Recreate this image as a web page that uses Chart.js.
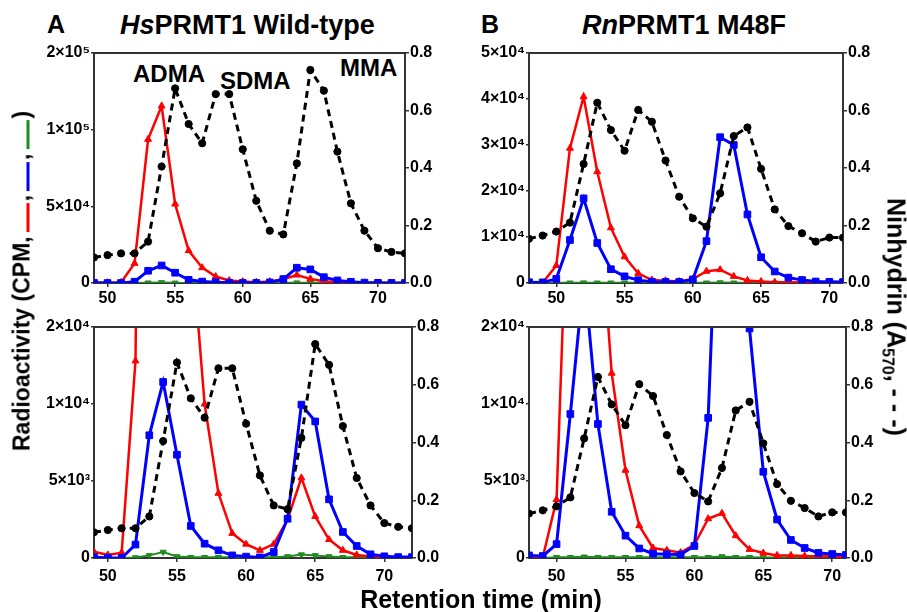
<!DOCTYPE html>
<html>
<head>
<meta charset="utf-8">
<script src="https://cdn.jsdelivr.net/npm/chart.js@4.4.1/dist/chart.umd.min.js"></script>
<style>
  html, body { margin: 0; padding: 0; background: #fff; }
  body { width: 907px; height: 612px; position: relative; overflow: hidden;
         font-family: 'Liberation Sans', Arial, sans-serif; color: #000; }
  canvas { position: absolute; }
  .txt { position: absolute; font-weight: bold; line-height: 1; white-space: nowrap; }
  .letter { font-size: 25px; }
  .title { font-size: 27px; }
  .peak { font-size: 24px; }
  .axis-title { font-size: 25px; }
  .ylab { font-size: 23px; }
  .rot-l { transform: translate(-50%, -50%) rotate(-90deg); }
  .rot-r { transform: translate(-50%, -50%) rotate(90deg); }
  .key { display: inline-block; width: 29px; height: 3px; vertical-align: baseline; margin: 0 2px 0 4px; }
  sub { font-size: 16px; vertical-align: -5px; line-height: 0; }
</style>
</head>
<body>
<div class="txt letter" style="left:47px; top:12px;">A</div>
<div class="txt title" style="left:120px; top:12px;"><i>Hs</i>PRMT1 Wild-type</div>
<div class="txt letter" style="left:481px; top:12px;">B</div>
<div class="txt title" style="left:582px; top:12px;"><i>Rn</i>PRMT1 M48F</div>

<div class="txt peak" style="left:133px; top:62px;">ADMA</div>
<div class="txt peak" style="left:220px; top:69px;">SDMA</div>
<div class="txt peak" style="left:340px; top:56px;">MMA</div>

<canvas id="a-top" width="450" height="270" style="left:0px; top:40px;"></canvas>
<canvas id="b-top" width="420" height="270" style="left:455px; top:40px;"></canvas>
<canvas id="a-bot" width="455" height="277" style="left:0px; top:315px;"></canvas>
<canvas id="b-bot" width="425" height="277" style="left:455px; top:315px;"></canvas>

<div class="txt ylab rot-l" style="left:22px; top:281px;">Radioactivity (CPM,<span class="key" style="background:#ff0000"></span>,<span class="key" style="background:#0000ff"></span>,<span class="key" style="background:#1e8c1e"></span>)</div>
<div class="txt axis-title rot-r" style="left:896px; top:317px;">Ninhydrin (A<sub>570</sub>, - - -)</div>
<div class="txt axis-title" style="left:481px; top:587px; transform: translateX(-50%);">Retention time (min)</div>

<script>
// ---------- Data ----------
// Panel A: HsPRMT1 wild-type, fractions 49..72 min
const A_TIME  = [49, 50, 51, 52, 53, 54, 55, 56, 57, 58, 59, 60, 61, 62, 63, 64, 65, 66, 67, 68, 69, 70, 71, 72];
const A_RED   = [400, 200, 350, 12800, 93700, 115400, 51500, 21100, 10000, 4200, 1600, 900, 500, 900, 2500, 5200, 2700, 1200, 500, 200, 100, 50, 0, 0];
const A_BLUE  = [60, 0, 0, 870, 7970, 11430, 6710, 2080, 930, 500, 170, 90, 40, 390, 2550, 9960, 8870, 3810, 1690, 780, 240, 110, 60, 60];
const A_GREEN = [0, 0, 0, 30, 170, 390, 100, 50, 50, 50, 50, 50, 50, 50, 100, 220, 170, 100, 50, 50, 50, 50, 50, 50];
const A_NIN   = [0.089, 0.097, 0.103, 0.103, 0.144, 0.405, 0.677, 0.553, 0.486, 0.657, 0.657, 0.465, 0.286, 0.182, 0.169, 0.416, 0.741, 0.669, 0.457, 0.277, 0.182, 0.121, 0.108, 0.103];

// Panel B: RnPRMT1 M48F, fractions 48..71 min
const B_TIME  = [48, 49, 50, 51, 52, 53, 54, 55, 56, 57, 58, 59, 60, 61, 62, 63, 64, 65, 66, 67, 68, 69, 70, 71];
const B_RED   = [40, 40, 3800, 29300, 40500, 24200, 12000, 5700, 2100, 650, 500, 350, 870, 2550, 2900, 1450, 560, 320, 170, 170, 130, 110, 100, 80];
const B_BLUE  = [170, 130, 900, 9350, 18400, 8700, 3000, 1450, 620, 280, 240, 220, 780, 9100, 31700, 30000, 14900, 5600, 2500, 1170, 650, 330, 260, 200];
const B_GREEN = [0, 0, 50, 50, 80, 50, 50, 50, 50, 50, 50, 50, 50, 50, 100, 50, 50, 30, 30, 30, 30, 30, 30, 30];
const B_NIN   = [0.154, 0.165, 0.179, 0.210, 0.414, 0.627, 0.532, 0.460, 0.602, 0.561, 0.426, 0.300, 0.225, 0.196, 0.312, 0.511, 0.541, 0.397, 0.256, 0.198, 0.173, 0.144, 0.158, 0.158];

// ---------- Tick values / labels ----------
const X_TICKS = [50, 55, 60, 65, 70];
const NIN_TICKS  = [0, 0.2, 0.4, 0.6, 0.8];
const NIN_LABELS = ['0.0', '0.2', '0.4', '0.6', '0.8'];
const A_TOP_TICKS  = [0, 50000, 100000, 150000];
const A_TOP_LABELS = ['0', '5\u00d710\u2074', '1\u00d710\u2075', '2\u00d710\u2075'];
const B_TOP_TICKS  = [0, 10000, 20000, 30000, 40000, 50000];
const B_TOP_LABELS = ['0', '1\u00d710\u2074', '2\u00d710\u2074', '3\u00d710\u2074', '4\u00d710\u2074', '5\u00d710\u2074'];
const BOT_TICKS  = [0, 5000, 10000, 15000];
const BOT_LABELS = ['0', '5\u00d710\u00b3', '1\u00d710\u2074', '2\u00d710\u2074'];

const RED = '#ff0000', BLUE = '#0000ff', GREEN = '#1e8c1e', BLACK = '#000000';
const AXIS = '#333333';
const FONT = { family: "'Liberation Sans', Arial, sans-serif", size: 16, weight: 'bold' };

const pts = (xs, ys) => xs.map((x, i) => ({ x: x, y: ys[i] }));

// ---------- top frame line ----------
const frameTop = {
  id: 'frameTop',
  afterDraw(chart) {
    const a = chart.chartArea, ctx = chart.ctx;
    ctx.save();
    ctx.strokeStyle = AXIS;
    ctx.lineWidth = 2;
    ctx.beginPath();
    ctx.moveTo(a.left - 1, a.top);
    ctx.lineTo(a.right + 1, a.top);
    ctx.stroke();
    ctx.restore();
  },
};

// ---------- Chart factory ----------
function makeChart(id, cfg) {
  const ds = [
    { data: pts(cfg.time, cfg.nin), yAxisID: 'y1', borderColor: BLACK, backgroundColor: BLACK,
      borderWidth: 3, borderDash: [7, 5], pointStyle: 'circle', pointRadius: 3.6, order: 0 },
    { data: pts(cfg.time, cfg.blue), yAxisID: 'y', borderColor: BLUE, backgroundColor: BLUE,
      borderWidth: 3, pointStyle: 'rect', pointRadius: 4.7, order: 1 },
    { data: pts(cfg.time, cfg.red), yAxisID: 'y', borderColor: RED, backgroundColor: RED,
      borderWidth: 2.5, pointStyle: 'triangle', pointRadius: 4, order: 2 },
    { data: pts(cfg.time, cfg.green), yAxisID: 'y', borderColor: GREEN, backgroundColor: GREEN,
      borderWidth: 2, pointStyle: 'triangle', pointRotation: 180, pointRadius: 3.5, order: 3 },
  ];
  ds.forEach((d) => {
    d.pointBackgroundColor = d.borderColor;
    d.pointBorderColor = d.borderColor;
    d.pointBorderWidth = 1;
    d.tension = 0;
  });

  return new Chart(document.getElementById(id), {
    type: 'line',
    data: { datasets: ds },
    options: {
      responsive: false,
      animation: false,
      devicePixelRatio: 1,
      layout: { padding: { top: cfg.padTop, bottom: 0, left: 0, right: 0 } },
      plugins: { legend: { display: false }, tooltip: { enabled: false } },
      scales: {
        x: {
          type: 'linear', min: cfg.time[0], max: cfg.time[cfg.time.length - 1],
          afterBuildTicks: (s) => { s.ticks = X_TICKS.map((v) => ({ value: v })); },
          afterFit: (s) => { s.height = cfg.xH; },
          ticks: { font: FONT, color: '#000', padding: cfg.xPad, maxRotation: 0 },
          grid: { drawOnChartArea: false, drawTicks: true, tickLength: 4, color: AXIS, lineWidth: 1.5 },
          border: { display: true, color: AXIS, width: 2 },
        },
        y: {
          type: 'linear', position: 'left', min: 0, max: cfg.yTicks[cfg.yTicks.length - 1],
          afterBuildTicks: (s) => { s.ticks = cfg.yTicks.map((v) => ({ value: v })); },
          afterFit: (s) => { s.width = cfg.leftW; },
          ticks: { font: FONT, color: '#000', padding: 1,
                   callback: (v) => cfg.yLabels[cfg.yTicks.indexOf(v)] },
          grid: { drawOnChartArea: false, drawTicks: true, tickLength: 3, color: AXIS, lineWidth: 1.5 },
          border: { display: true, color: AXIS, width: 2 },
        },
        y1: {
          type: 'linear', position: 'right', min: 0, max: 0.8,
          afterBuildTicks: (s) => { s.ticks = NIN_TICKS.map((v) => ({ value: v })); },
          afterFit: (s) => { s.width = cfg.rightW; },
          ticks: { font: FONT, color: '#000', padding: 1,
                   callback: (v) => NIN_LABELS[NIN_TICKS.indexOf(v)] },
          grid: { drawOnChartArea: false, drawTicks: true, tickLength: 4, color: AXIS, lineWidth: 1.5 },
          border: { display: true, color: AXIS, width: 2 },
        },
      },
    },
    plugins: [frameTop],
  });
}

makeChart('a-top', { time: A_TIME, red: A_RED, blue: A_BLUE, green: A_GREEN, nin: A_NIN,
  yTicks: A_TOP_TICKS, yLabels: A_TOP_LABELS, leftW: 94, rightW: 45, padTop: 13, xH: 27, xPad: 2 });
makeChart('b-top', { time: B_TIME, red: B_RED, blue: B_BLUE, green: B_GREEN, nin: B_NIN,
  yTicks: B_TOP_TICKS, yLabels: B_TOP_LABELS, leftW: 74, rightW: 32, padTop: 13, xH: 27, xPad: 2 });
makeChart('a-bot', { time: A_TIME, red: A_RED, blue: A_BLUE, green: A_GREEN, nin: A_NIN,
  yTicks: BOT_TICKS, yLabels: BOT_LABELS, leftW: 94, rightW: 43, padTop: 12, xH: 34, xPad: 5 });
makeChart('b-bot', { time: B_TIME, red: B_RED, blue: B_BLUE, green: B_GREEN, nin: B_NIN,
  yTicks: BOT_TICKS, yLabels: BOT_LABELS, leftW: 74, rightW: 34, padTop: 12, xH: 34, xPad: 5 });
</script>
</body>
</html>
